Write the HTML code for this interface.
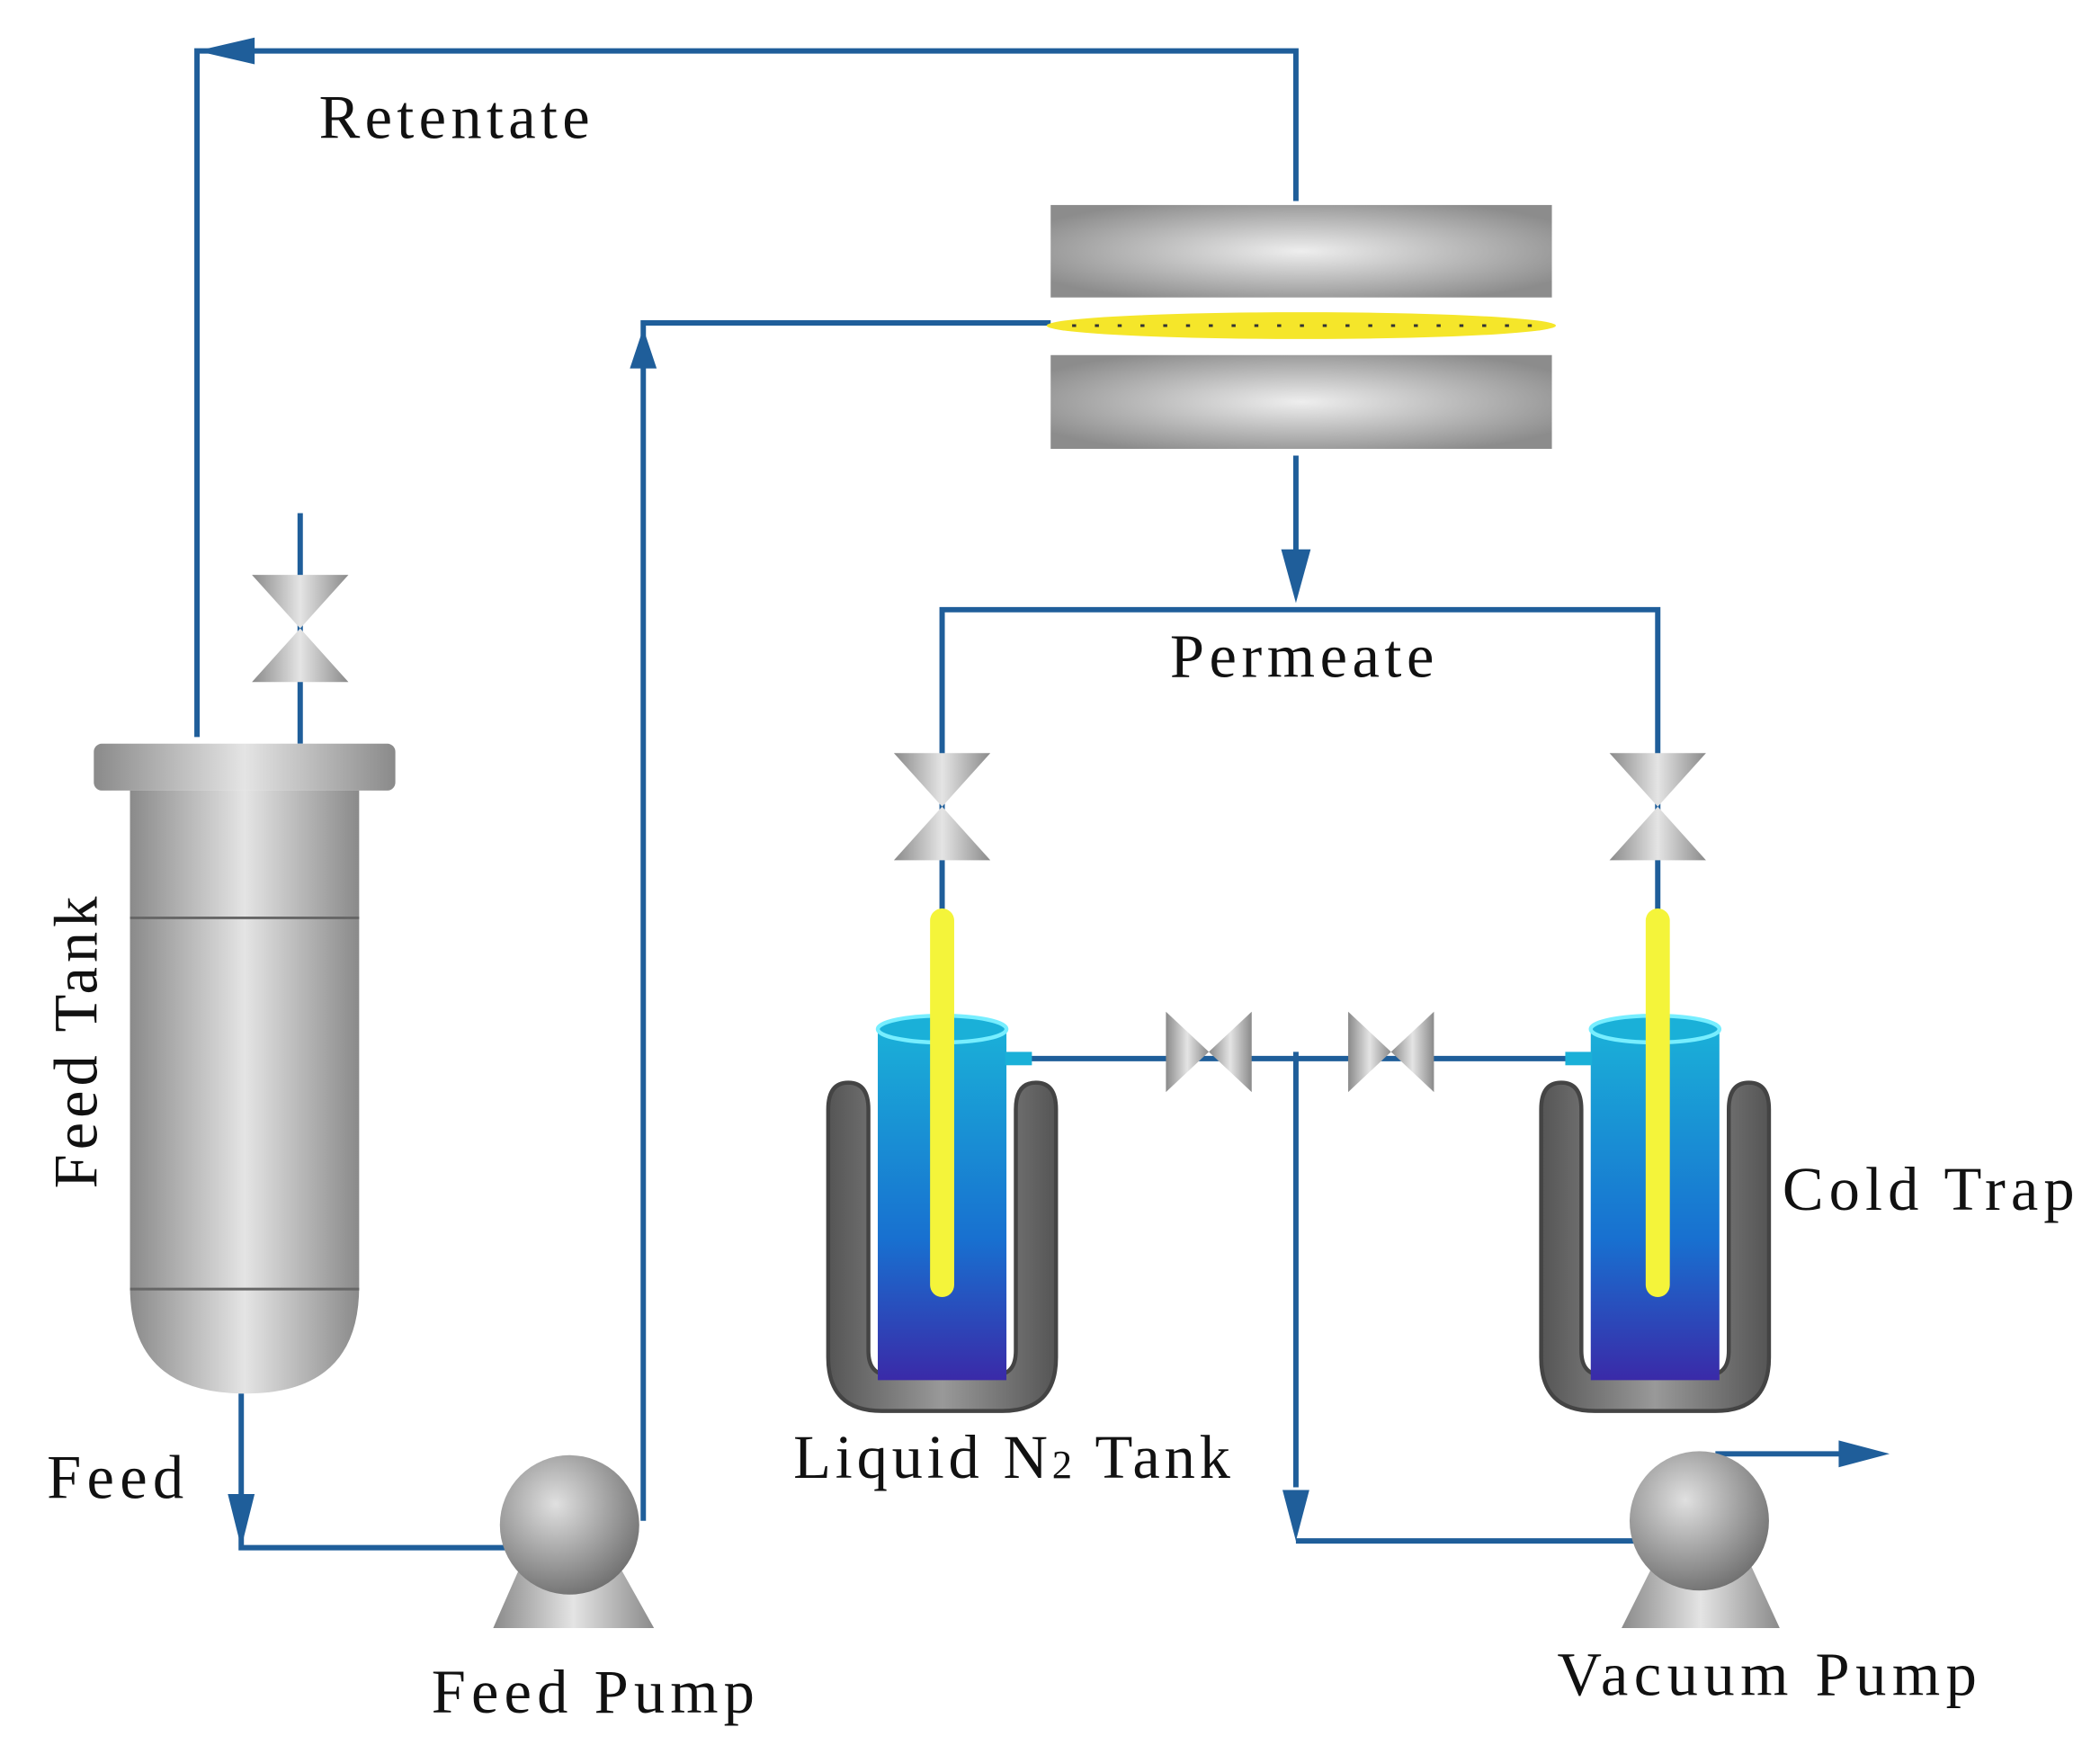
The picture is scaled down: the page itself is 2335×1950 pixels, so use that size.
<!DOCTYPE html>
<html><head><meta charset="utf-8"><style>
html,body{margin:0;padding:0;background:#fff;}
svg{display:block;}
text{font-family:"Liberation Serif",serif;font-size:46px;fill:#111;}
</style></head><body>
<svg width="2335" height="1950" viewBox="0 0 1567 1309" preserveAspectRatio="none" xmlns="http://www.w3.org/2000/svg">
<defs>
<linearGradient id="gh" x1="0" x2="1" y1="0" y2="0">
<stop offset="0" stop-color="#8a8a8a"/><stop offset="0.5" stop-color="#e4e4e4"/><stop offset="1" stop-color="#8a8a8a"/></linearGradient>
<radialGradient id="mg" cx="0.5" cy="0.5" r="0.6">
<stop offset="0" stop-color="#eeeeee"/><stop offset="1" stop-color="#8c8c8c"/></radialGradient>
<radialGradient id="pg" cx="0.4" cy="0.35" r="0.7">
<stop offset="0" stop-color="#e0e0e0"/><stop offset="1" stop-color="#6e6e6e"/></radialGradient>
<linearGradient id="bl" x1="0" x2="0" y1="0" y2="1">
<stop offset="0" stop-color="#1ab0d8"/><stop offset="0.6" stop-color="#1870d0"/><stop offset="1" stop-color="#3a2aa8"/></linearGradient>
<linearGradient id="jk" x1="0" x2="1">
<stop offset="0" stop-color="#555"/><stop offset="0.5" stop-color="#999"/><stop offset="1" stop-color="#555"/></linearGradient>
<g id="vv"><polygon points="-36,-40 36,-40 0,0" fill="url(#gh)"/><polygon points="-36,40 36,40 0,0" fill="url(#gh)"/></g>
<g id="vh"><polygon points="-32,-30 -32,30 0,0" fill="url(#gh)"/><polygon points="32,-30 32,30 0,0" fill="url(#gh)"/></g>
<g id="trap">
<path d="M-85,60 L-85,245 Q-85,285 -45,285 L45,285 Q85,285 85,245 L85,60 Q85,40 70,40 Q55,40 55,60 L55,240 Q55,258 40,258 L-40,258 Q-55,258 -55,240 L-55,60 Q-55,40 -70,40 Q-85,40 -85,60Z" fill="url(#jk)" stroke="#444" stroke-width="3"/>
<rect x="-48" y="0" width="96" height="262" fill="url(#bl)"/>
<ellipse cx="0" cy="0" rx="48" ry="10" fill="#1ab0d8" stroke="#7ef" stroke-width="3"/>
</g>
</defs>
<g stroke="#1f5e9a" stroke-width="4" fill="none">
<polyline points="147,550 147,38 967,38 967,150"/>
<polyline points="224,383 224,555"/>
<polyline points="180,1040 180,1155 400,1155"/>
<polyline points="480,1135 480,241 784,241"/>
<polyline points="967,340 967,420"/>
<polyline points="703,680 703,455 1237,455 1237,680"/>
<polyline points="750,790 1188,790"/>
<polyline points="967,785 967,1110"/>
<polyline points="967,1150 1245,1150"/>
<polyline points="1280,1085 1375,1085"/>
</g>
<g fill="#1f5e9a">
<polygon points="147,38 190,28 190,48"/>
<polygon points="480,245 470,275 490,275"/>
<polygon points="967,450 956,410 978,410"/>
<polygon points="180,1155 170,1115 190,1115"/>
<polygon points="967,1150 957,1112 977,1112"/>
<polygon points="1410,1085 1372,1075 1372,1095"/>
</g>
<rect x="784" y="153" width="374" height="69" fill="url(#mg)"/>
<rect x="784" y="265" width="374" height="70" fill="url(#mg)"/>
<ellipse cx="971" cy="243" rx="190" ry="10" fill="#f5e62a"/>
<line x1="800" y1="243" x2="1145" y2="243" stroke="#333" stroke-width="2" stroke-dasharray="3,14"/>
<use href="#vv" x="224" y="469"/>
<use href="#vv" x="703" y="602"/>
<use href="#vv" x="1237" y="602"/>
<use href="#vh" x="902" y="785"/>
<use href="#vh" x="1038" y="785"/>
<rect x="70" y="555" width="225" height="35" rx="6" fill="url(#gh)"/>
<path d="M97,590 L268,590 L268,960 Q268,1040 183,1040 Q97,1040 97,960Z" fill="url(#gh)"/>
<line x1="97" y1="685" x2="268" y2="685" stroke="#666" stroke-width="2"/>
<line x1="97" y1="962" x2="268" y2="962" stroke="#666" stroke-width="2"/>
<use href="#trap" x="703" y="768"/>
<use href="#trap" x="1235" y="768"/>
<rect x="694" y="678" width="18" height="290" rx="9" fill="#f4f43a"/>
<rect x="1228" y="678" width="18" height="290" rx="9" fill="#f4f43a"/>
<rect x="750" y="785" width="20" height="10" fill="#1ab0d8"/>
<rect x="1168" y="785" width="20" height="10" fill="#1ab0d8"/>
<polygon points="390,1165 460,1165 488,1215 368,1215" fill="url(#gh)"/>
<circle cx="425" cy="1138" r="52" fill="url(#pg)"/>
<polygon points="1235,1165 1305,1165 1328,1215 1210,1215" fill="url(#gh)"/>
<circle cx="1268" cy="1135" r="52" fill="url(#pg)"/>
<text x="238" y="103" textLength="202" lengthAdjust="spacing">Retentate</text>
<text x="873" y="505" textLength="197" lengthAdjust="spacing">Permeate</text>
<text x="35" y="1118" textLength="102" lengthAdjust="spacing">Feed</text>
<text x="322" y="1278" textLength="241" lengthAdjust="spacing">Feed Pump</text>
<text x="592" y="1103" textLength="326" lengthAdjust="spacing">Liquid N<tspan font-size="30">2</tspan> Tank</text>
<text x="1330" y="903" textLength="218" lengthAdjust="spacing">Cold Trap</text>
<text x="1162" y="1265" textLength="313" lengthAdjust="spacing">Vacuum Pump</text>
<text transform="translate(72,887) rotate(-90)" textLength="218" lengthAdjust="spacing">Feed Tank</text>
</svg>
</body></html>
